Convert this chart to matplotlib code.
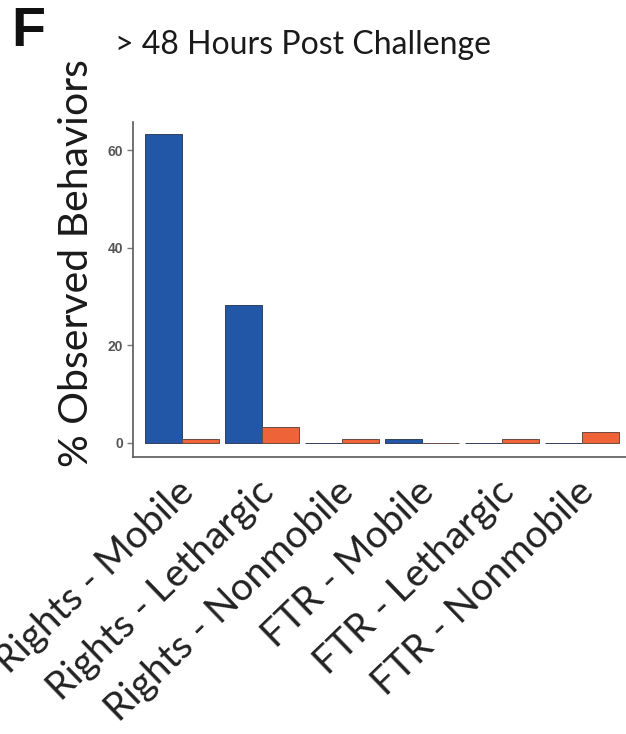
import matplotlib
matplotlib.use("Agg")
import matplotlib.pyplot as plt
import matplotlib.transforms as mtransforms
import numpy as np

categories = ["Rights - Mobile", "Rights - Lethargic", "Rights - Nonmobile",
              "FTR - Mobile", "FTR - Lethargic", "FTR - Nonmobile"]
group_a = [63.4, 28.3, 0.0, 0.8, 0.0, 0.0]   # blue series
group_b = [0.8, 3.2, 0.8, 0.0, 0.8, 2.3]     # orange series
yticks = [0, 20, 40, 60]

blue = "#2256A6"
orange = "#EE6338"

W, H = 626, 734
fig = plt.figure(figsize=(W / 100, H / 100), dpi=100)

# axes box in pixel coordinates
left_px, right_px, top_px, bottom_px = 133, 626, 122, 457
ax = fig.add_axes([left_px / W, 1 - bottom_px / H,
                   (right_px - left_px) / W, (bottom_px - top_px) / H])

x = np.arange(len(categories))
bw = 0.46
ax.bar(x - bw / 2, group_a, width=bw, color=blue, edgecolor="#33405a",
       linewidth=0.7, zorder=2)
ax.bar(x + bw / 2, group_b, width=bw, color=orange, edgecolor="#6b4a40",
       linewidth=0.7, zorder=2)

ax.set_xlim(-0.6125, 5.55)
ax.set_ylim(-2.87, 65.8)

for s in ("top", "right"):
    ax.spines[s].set_visible(False)
for s in ("left", "bottom"):
    ax.spines[s].set_color("#5a5a5a")
    ax.spines[s].set_linewidth(1.2)

ax.set_yticks(yticks)
ax.set_yticklabels([str(v) for v in yticks], fontsize=10, fontweight="bold",
                   color="#555555", family="Liberation Sans")
ax.tick_params(axis="y", length=4, width=1, color="#777777", pad=3)

ax.set_xticks(x)
ax.set_xticklabels(categories, rotation=44, ha="right", va="top",
                   rotation_mode="anchor", fontsize=28, family="Lato",
                   color="#222222")
ax.tick_params(axis="x", length=0, pad=12)
offset = mtransforms.ScaledTranslation(-0.06, 0, fig.dpi_scale_trans)
for lbl in ax.get_xticklabels():
    lbl.set_transform(lbl.get_transform() + offset)

fig.text(77 / W, 1 - 263 / H, "% Observed Behaviors", rotation=90,
         ha="center", va="center", fontsize=29.5, family="Lato", color="#1a1a1a")
fig.text(115 / W, 1 - 45 / H, "> 48 Hours Post Challenge", ha="left",
         va="center", fontsize=23, family="Lato", color="#1a1a1a")
fig.text(11 / W, 1 - 32 / H, "F", ha="left", va="center", fontsize=40,
         fontweight="bold", family="Liberation Sans", color="#111111")

fig.savefig("out.png", dpi=100)
